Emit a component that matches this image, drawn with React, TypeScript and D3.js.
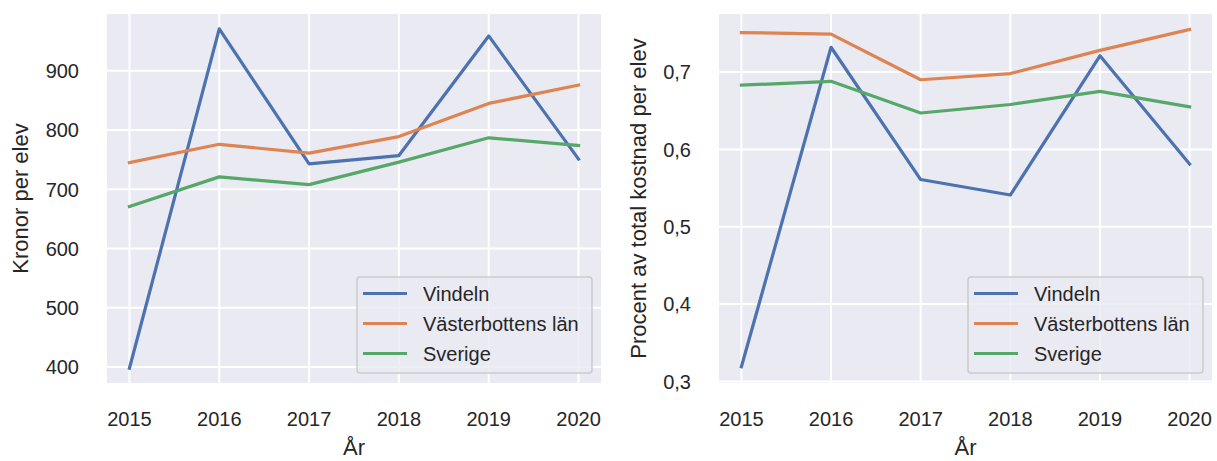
import React from "react";
import * as d3 from "d3";

const years = [2015, 2016, 2017, 2018, 2019, 2020];
const seriesNames = ["Vindeln", "Västerbottens län", "Sverige"];
const kronorVindeln = [398, 971, 743, 757, 959, 751];
const kronorVasterbotten = [745, 776, 761, 789, 845, 876];
const kronorSverige = [671, 721, 708, 746, 787, 774];
const procentVindeln = [0.319, 0.732, 0.561, 0.541, 0.721, 0.581];
const procentVasterbotten = [0.751, 0.749, 0.69, 0.698, 0.728, 0.755];
const procentSverige = [0.683, 0.688, 0.647, 0.658, 0.675, 0.655];
const kronorTicks = [400, 500, 600, 700, 800, 900];
const procentTicks = [0.3, 0.4, 0.5, 0.6, 0.7];
const colors = ["#4C72B0", "#DD8452", "#55A868"];

const FONT = "'Liberation Sans', Arial, Helvetica, sans-serif";
const TEXT = "#262626";
const TOP = 14;
const BOTTOM = 383;

type PanelProps = {
  left: number;
  right: number;
  yDomain: [number, number];
  yTicks: number[];
  fmt: (v: number) => string;
  series: number[][];
  ylabel: string;
  ylabelX: number;
};

function Panel({ left, right, yDomain, yTicks, fmt, series, ylabel, ylabelX }: PanelProps) {
  const x = d3.scaleLinear().domain([2014.75, 2020.25]).range([left, right]);
  const y = d3.scaleLinear().domain(yDomain).range([BOTTOM, TOP]);
  const line = d3
    .line<number>()
    .x((_, i) => x(years[i]))
    .y((d) => y(d));
  const lgRight = right - 9;
  const lgLeft = lgRight - 235;
  const lgBottom = BOTTOM - 10;
  const lgTop = lgBottom - 96;
  const cy = (TOP + BOTTOM) / 2;
  return (
    <g>
      <rect x={left} y={TOP} width={right - left} height={BOTTOM - TOP} fill="#EAEAF2" />
      {years.map((yr) => (
        <line key={"vx" + yr} x1={x(yr)} x2={x(yr)} y1={TOP} y2={BOTTOM} stroke="#fff" strokeWidth={2} />
      ))}
      {yTicks.map((t) => (
        <line key={"hy" + t} x1={left} x2={right} y1={y(t)} y2={y(t)} stroke="#fff" strokeWidth={2} />
      ))}
      {series.map((s, i) => (
        <path key={"s" + i} d={line(s) || ""} fill="none" stroke={colors[i]} strokeWidth={3.2} strokeLinejoin="round" strokeLinecap="square" />
      ))}
      {years.map((yr) => (
        <text key={"xt" + yr} x={x(yr)} y={426} textAnchor="middle" fontSize={20} fill={TEXT} fontFamily={FONT}>
          {yr}
        </text>
      ))}
      {yTicks.map((t) => (
        <text key={"yt" + t} x={left - 28} y={y(t)} dy="0.36em" textAnchor="end" fontSize={20} fill={TEXT} fontFamily={FONT}>
          {fmt(t)}
        </text>
      ))}
      <text x={(left + right) / 2} y={455} textAnchor="middle" fontSize={22} fill={TEXT} fontFamily={FONT}>
        År
      </text>
      <text
        transform={`translate(${ylabelX},${cy}) rotate(-90)`}
        textAnchor="middle"
        fontSize={22}
        fill={TEXT}
        fontFamily={FONT}
      >
        {ylabel}
      </text>
      <rect
        x={lgLeft}
        y={lgTop}
        width={lgRight - lgLeft}
        height={lgBottom - lgTop}
        rx={3}
        fill="rgba(234,234,242,0.8)"
        stroke="#CCCCCC"
        strokeWidth={1.5}
      />
      {seriesNames.map((n, i) => {
        const ly = lgTop + 16.5 + i * 30;
        return (
          <g key={"lg" + i}>
            <line x1={lgLeft + 6} x2={lgLeft + 50} y1={ly} y2={ly} stroke={colors[i]} strokeWidth={3.2} />
            <text x={lgLeft + 66} y={ly} dy="0.36em" fontSize={20} fill={TEXT} fontFamily={FONT}>
              {n}
            </text>
          </g>
        );
      })}
    </g>
  );
}

export default function App() {
  return (
    <svg
      width={1217}
      height={461}
      style={{ position: "absolute", left: 0, top: 0, background: "#fff" }}
      xmlns="http://www.w3.org/2000/svg"
    >
      <rect width={1217} height={461} fill="#fff" />
      <Panel
        left={107}
        right={601}
        yDomain={[373, 996]}
        yTicks={kronorTicks}
        fmt={(v) => String(v)}
        series={[kronorVindeln, kronorVasterbotten, kronorSverige]}
        ylabel="Kronor per elev"
        ylabelX={28}
      />
      <Panel
        left={719}
        right={1212}
        yDomain={[0.298, 0.775]}
        yTicks={procentTicks}
        fmt={(v) => v.toFixed(1).replace(".", ",")}
        series={[procentVindeln, procentVasterbotten, procentSverige]}
        ylabel="Procent av total kostnad per elev"
        ylabelX={646}
      />
    </svg>
  );
}
